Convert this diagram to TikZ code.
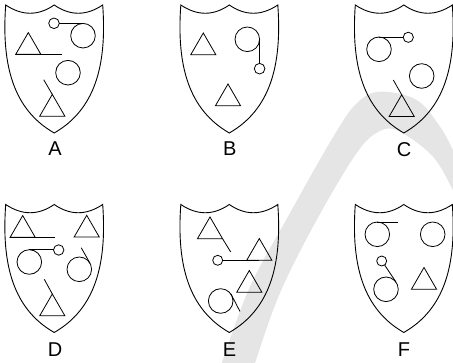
\documentclass[tikz,border=0pt]{standalone}
\usepackage{fontspec}
\newfontfamily\lblfont{Liberation Sans}
\begin{document}
\begin{tikzpicture}[x=1pt,y=-1pt,
  shieldline/.style={line width=0.9pt,line join=miter},
  fig/.style={line width=0.8pt},
  lbl/.style={font=\lblfont\fontsize{20}{24}\selectfont,inner sep=0pt,anchor=base},
  band/.style={fill=black!10,draw=none}]
\useasboundingbox (0,0) rectangle (453,363);
\clip (0,0) rectangle (453,363);
% grey swoosh
\fill[band] plot[smooth,tension=0.6] coordinates {(215,380) (221.7,363) (250,286.7) (290,213) (333.3,136.7) (356.7,103.3) (380,91.7) (416.7,100) (440,126.7) (453,150) (460,165)}
  -- plot[smooth,tension=0.6] coordinates {(462,205) (453,190) (433,156.7) (400,131.7) (380,131) (356.7,153) (316.7,220) (280,293) (255,363) (250,380)} -- cycle;
\newcommand\myshield[2]{%
  \draw[shieldline,shift={(#1,#2)}] (-48.5,0) .. controls (-32,11) and (-16,11) .. (0,0)
    .. controls (16,11) and (32,11) .. (48.5,0)
    .. controls (53,62) and (40,105) .. (0,128)
    .. controls (-40,105) and (-53,62) .. cycle;}
\newcommand\mytri[2]{\draw[fig] (#1,#2) -- (#1+12.6,#2+21.8) -- (#1-12.6,#2+21.8) -- cycle;}
% shields
\myshield{54.2}{5}
\myshield{229.3}{5}
\myshield{403.8}{5}
\myshield{54.2}{204.5}
\myshield{229.3}{204.5}
\myshield{403.8}{204.5}
% labels
\node[lbl] (la) at (55,156) {A};
\node[lbl] (lb) at (229.7,156) {B};
\node[lbl] (lc) at (404,156.5) {C};
\node[lbl] (ld) at (55,356.5) {D};
\node[lbl] (le) at (229.5,356.5) {E};
\node[lbl] (lf) at (404,356.5) {F};
% ---- A
\draw[fig] (54,23.3) circle[radius=5.3];
\draw[fig] (59.3,23.3) -- (84,23.3);
\draw[fig] (83,35.7) circle[radius=12.3];
\mytri{28.3}{32.6}
\draw[fig] (40.9,54.4) -- (61.7,54.4);
\draw[fig] (68,72.7) circle[radius=12.3];
\mytri{52.3}{94.4}
\draw[fig] (52.3,94.4) -- (43.7,79.7);
% ---- B
\mytri{203.3}{33}
\draw[fig] (247.3,39.3) circle[radius=12.3];
\draw[fig] (259.6,39.3) -- (259.6,63.4);
\draw[fig] (259.6,68.7) circle[radius=5.3];
\mytri{228}{84}
% ---- C
\draw[fig] (379,49.3) circle[radius=12.3];
\draw[fig] (379,37) -- (403.3,37);
\draw[fig] (408.3,37.3) circle[radius=5.1];
\draw[fig] (421.7,76) circle[radius=12.3];
\mytri{401.7}{94.8}
\draw[fig] (401.7,94.8) -- (393.3,80);
% ---- D
\mytri{22.7}{215.6}
\draw[fig] (35.3,237.4) -- (55,237.4);
\mytri{86.7}{215.3}
\draw[fig] (29.3,262) circle[radius=12.3];
\draw[fig] (29.3,249.7) -- (53.5,249.7);
\draw[fig] (58.7,250) circle[radius=5.2];
\draw[fig] (79.3,269.3) circle[radius=12.3];
\draw[fig] (81.2,247.7) -- (90.1,263.4);
\mytri{52.3}{294}
\draw[fig] (52.3,294) -- (44.3,279.3);
% ---- E
\mytri{210}{217}
\draw[fig] (222.6,238.8) -- (230.7,252);
\draw[fig] (217.7,260.3) circle[radius=5];
\draw[fig] (222.7,260.3) -- (259.3,260.3);
\mytri{259.3}{238.5}
\mytri{249.3}{270.5}
\draw[fig] (220.7,301) circle[radius=12.3];
\draw[fig] (230.8,293.7) -- (240,311.5);
% ---- F
\draw[fig] (377.3,234.3) circle[radius=12.3];
\draw[fig] (377.3,222) -- (398.3,222);
\draw[fig] (432.7,234.3) circle[radius=12.3];
\draw[fig] (381.7,261) circle[radius=5];
\draw[fig] (384.6,265) -- (396,282.1);
\draw[fig] (386,289.3) circle[radius=12.3];
\mytri{424}{267.5}
\end{tikzpicture}
\end{document}
